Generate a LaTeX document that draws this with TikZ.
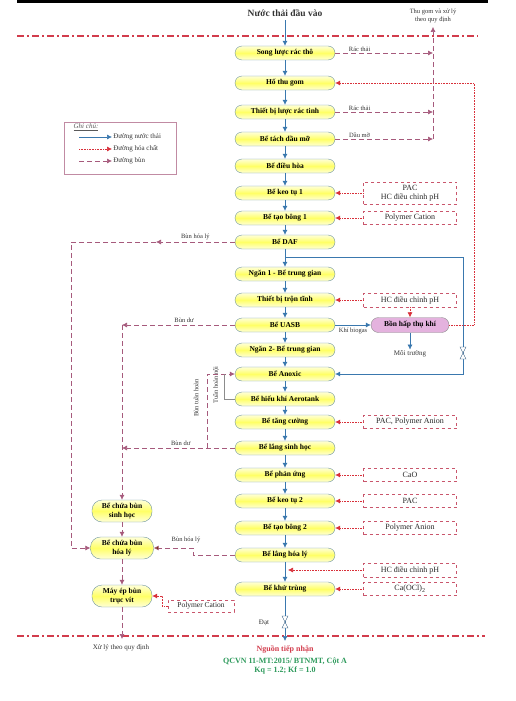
\documentclass[tikz,border=0pt]{standalone}
\usepackage{fontspec}
\setmainfont{Liberation Serif}
\usetikzlibrary{arrows.meta, positioning, calc}

\definecolor{waterblue}{HTML}{3A78AE}
\definecolor{chemred}{HTML}{D8303A}
\definecolor{sludge}{HTML}{A65A7C}
\definecolor{boxedge}{HTML}{6F95A0}
\definecolor{borderred}{HTML}{D23C4C}
\definecolor{textgreen}{HTML}{2E9A5C}
\definecolor{chemedge}{HTML}{C9566C}
\definecolor{bonpink}{HTML}{E4B2DE}
\definecolor{sludgebrown}{HTML}{7A3A14}

\begin{document}
\begin{tikzpicture}[x=1pt, y=-1pt]
		\tikzstyle{process} = [rectangle, rounded corners=7pt, draw=boxedge, top color=yellow!15, bottom color=yellow!15!white, middle color=yellow!60, minimum width=100pt, minimum height=14pt, inner sep=1pt, font=\fontsize{7.5}{9}\selectfont\bfseries]
		\tikzstyle{sludge_box} = [process, rounded corners=10pt, minimum width=60pt, minimum height=22pt, align=center, font=\fontsize{7.5}{8.5}\selectfont\bfseries]
		\tikzstyle{chem} = [rectangle, draw=chemedge, dashed, minimum width=93pt, minimum height=13pt, inner xsep=1.5pt, inner ysep=3pt, align=center, text=black!85, font=\fontsize{8}{9.5}\selectfont]
		\tikzstyle{small_text} = [font=\fontsize{6.5}{7.5}\selectfont, inner sep=1pt, align=center, text=black!80]

		\tikzstyle{water_line} = [-{Latex[length=5pt,width=5pt]}, waterblue, semithick]
		\tikzstyle{chem_line} = [-{Latex[length=5pt,width=5pt]}, chemred, densely dotted, semithick]
		\tikzstyle{sludge_line} = [-{Latex[length=5pt,width=5pt]}, sludge, dash pattern=on 5pt off 3pt, semithick]
		\tikzstyle{border_line} = [borderred, line width=1.2pt, dash pattern=on 7pt off 3pt on 2pt off 3pt]

		\useasboundingbox (0,0) rectangle (515,701);
		\fill[black] (17,0) rectangle (488,3.5);

		% Limits
		\draw[border_line] (17,36) -- (478,36);
		\draw[border_line] (17,636) -- (485,636);

		% Main line
		\node[font=\fontsize{9.5}{11}\selectfont\bfseries, text=black!80] (inlet) at (285,13) {Nước thải đầu vào};
		\foreach \n/\y/\t in {song/53/Song lược rác thô, hothugom/83/Hố thu gom, luocractinh/112/Thiết bị lược rác tinh, tachdau/139/Bể tách dầu mỡ, dieuhoa/166/Bể điều hòa, keotu1/193/Bể keo tụ 1, taobong1/218/Bể tạo bông 1, daf/242/Bể DAF, ngan1/274/Ngăn 1 - Bể trung gian, tron/300/Thiết bị trộn tĩnh, uasb/325/Bể UASB, ngan2/350/Ngăn 2- Bể trung gian, anoxic/374/Bể Anoxic, aerotank/399/Bể hiếu khí Aerotank, tangcuong/422/Bể tăng cường, langsh/448/Bể lắng sinh học, phanung/475/Bể phản ứng, keotu2/501/Bể keo tụ 2, taobong2/528/Bể tạo bông 2, langhl/555/Bể lắng hóa lý, khutrung/589/Bể khử trùng} {
				\node[process] (\n) at (285,\y) {\t};
			};

		\draw[water_line] (inlet.south) -- (song.north);
		\foreach \a/\b in {song/hothugom, hothugom/luocractinh, luocractinh/tachdau, tachdau/dieuhoa, dieuhoa/keotu1, keotu1/taobong1, taobong1/daf, daf/ngan1, ngan1/tron, tron/uasb, uasb/ngan2, ngan2/anoxic, anoxic/aerotank, aerotank/tangcuong, tangcuong/langsh, langsh/phanung, phanung/keotu2, keotu2/taobong2, taobong2/langhl, langhl/khutrung} {
				\draw[water_line] (\a) -- (\b);
			};

		% Chemicals
		\foreach \n/\t/\m in {chem_keotu1/{PAC\\HC điều chỉnh pH}/keotu1, chem_taobong1/Polymer Cation/taobong1, chem_tron/HC điều chỉnh pH/tron, chem_tangcuong/{PAC, Polymer Anion}/tangcuong, chem_phanung/CaO/phanung, chem_keotu2/PAC/keotu2, chem_taobong2/Polymer Anion/taobong2, chem_khutrung/Ca(OCl)\textsubscript{2}/khutrung} {
				\node[chem] (\n) at ($(\m)+(125,0)$) {\t};
				\draw[chem_line] (\n) -- (\m);
			};
		\node[chem] (chem_ph) at ($(khutrung)+(125,-19)$) {HC điều chỉnh pH};
		\draw[chem_line] (chem_ph.west) -- ($(langhl.south |- chem_ph.west)+(3,0)$);

		% Biogas
		\node[rectangle, rounded corners=7.5pt, draw=black!45, fill=bonpink, minimum width=78pt, minimum height=15pt, inner sep=1pt, font=\fontsize{7.5}{9}\selectfont\bfseries] (bon) at (410,325) {Bồn hấp thụ khí};
		\draw[water_line] (uasb) -- (bon) node[midway, below=2pt, small_text]{Khí biogas};
		\draw[chem_line] (chem_tron) -- (bon);
		\node[small_text, font=\fontsize{7}{8}\selectfont] (moitruong) at (410,354) {Môi trường};
		\draw[water_line] (bon.south) -- (moitruong.north);
		\coordinate (gas_return) at (474,83);
		\draw[chem_line] (bon.east) -| (gas_return) -- (hothugom.east);

		% Waste
		\node[small_text] (thugom) at (433,16) {Thu gom và xử lý\\theo quy định};
		\draw[sludge_line] (song.east) -- (song.east -| thugom.south) node[pos=0.25, above, small_text]{Rác thải};
		\draw[sludge_line] (luocractinh.east) -- (luocractinh.east -| thugom.south) node[pos=0.25, above, small_text]{Rác thải};
		\draw[sludge_line] (tachdau.east) -- (tachdau.east -| thugom.south) node[pos=0.25, above, small_text]{Dầu mỡ};
		\draw[sludge_line, shorten >=3pt] (tachdau.east -| thugom.south) -- (thugom.south);

		% DAF bypass
		\coordinate (bypass) at (285,257);
		\coordinate (bypass_r) at (463,257);
		\draw[water_line] (bypass) -- (bypass_r) |- (anoxic.east);
		\coordinate (valve_bypass) at (463,353);

		% Sludge
		\node[sludge_box] (bunsh) at (122,511) {Bể chứa bùn\\sinh học};
		\node[sludge_box, minimum width=63pt] (bunhl) at (122,548) {Bể chứa bùn\\hóa lý};
		\node[sludge_box] (mayep) at (122,596) {Máy ép bùn\\trục vít};
		\node[chem, minimum width=66pt, minimum height=12pt, inner ysep=2pt, font=\fontsize{7.5}{9}\selectfont] (pc) at (201,606) {Polymer Cation};

		\coordinate (daf_mid) at (156,242);
		\coordinate (daf_left) at (71,242);
		\draw[sludge_line] (daf.west) -- (daf_mid) node[midway, above=1pt, small_text]{Bùn hóa lý};
		\draw[sludge_line] (daf_mid) -- (daf_left) |- (bunhl.west);

		\coordinate (uasb_left) at (bunsh.north |- uasb.west);
		\draw[sludge_line] (uasb.west) -- (uasb_left) node[pos=0.45, above=1pt, small_text]{Bùn dư};
		\draw[sludge_line] (uasb_left) -- (bunsh.north);

		\draw[sludge_line] (langsh.west) -- (langsh.west -| bunsh.north) node[pos=0.48, above=1pt, small_text]{Bùn dư};
		\coordinate (recycle) at (207,448);
		\draw[sludge_line] (recycle) |- (anoxic.west);
		\node[small_text, rotate=90] at (196,398) {Bùn tuần hoàn};
		\coordinate (inner_top) at (224,374);
		\draw[black!45] (aerotank.west) -| (inner_top);
		\node[small_text, rotate=90] at (216,385) {Tuần hoàn nội};

		\coordinate (langhl_left) at (193,555);
		\draw[sludge_line, -{Latex[length=5pt,width=5pt,fill=sludgebrown]}] (langhl.west) -- (langhl_left) |- (bunhl.east);
		\node[small_text] at (186,540) {Bùn hóa lý};

		\draw[sludge_line] (bunsh) -- (bunhl);
		\draw[sludge_line] (bunhl) -- (mayep);
		\draw[chem_line] (pc.west) -- ++(-6,0) |- (mayep.east);
		\coordinate (sludge_out) at (122,639);
		\draw[sludge_line] (mayep.south) -- (sludge_out);
		\node[small_text, font=\fontsize{7}{8}\selectfont] at (121,648) {Xử lý theo quy định};

		% Outlet
		\coordinate (outlet) at (285,641);
		\draw[water_line] (khutrung.south) -- (outlet);
		\coordinate (valve_out) at (285,622);
		\node[small_text, font=\fontsize{7}{8}\selectfont] at (264,623) {Đạt};
		\foreach \v in {valve_bypass, valve_out} {
				\draw[waterblue!70!black, fill=white] ($(\v)+(-3,-6)$) -- ($(\v)+(3,-6)$) -- ($(\v)+(-3,6)$) -- ($(\v)+(3,6)$) -- cycle;
			};
		\node[font=\fontsize{8}{9}\selectfont\bfseries, text=borderred] (nguon) at (285,649) {Nguồn tiếp nhận};
		\node[font=\fontsize{8}{9}\selectfont\bfseries, text=textgreen, below=0pt of nguon, inner sep=1pt] (qcvn) {QCVN 11-MT:2015/ BTNMT, Cột A};
		\node[font=\fontsize{8}{9}\selectfont\bfseries, text=textgreen, below=0pt of qcvn, inner sep=1pt] (kq) {Kq = 1.2; Kf = 1.0};

		% Legend
		\node[rectangle, draw=sludge!70, minimum width=112pt, minimum height=52pt] (legend) at (120,148) {};
		\node[small_text, font=\fontsize{7}{8}\selectfont\itshape, text=black!65] at (86,127) {\underline{Ghi chú:}};
		\foreach \y/\s/\t in {137/water_line/Đường nước thải, 149/chem_line/Đường hóa chất, 161/sludge_line/Đường bùn} {
				\draw[\s] (79,\y) -- (112,\y) node[right, small_text, font=\fontsize{7}{8}\selectfont]{\t};
			};

	\end{tikzpicture}
\end{document}
